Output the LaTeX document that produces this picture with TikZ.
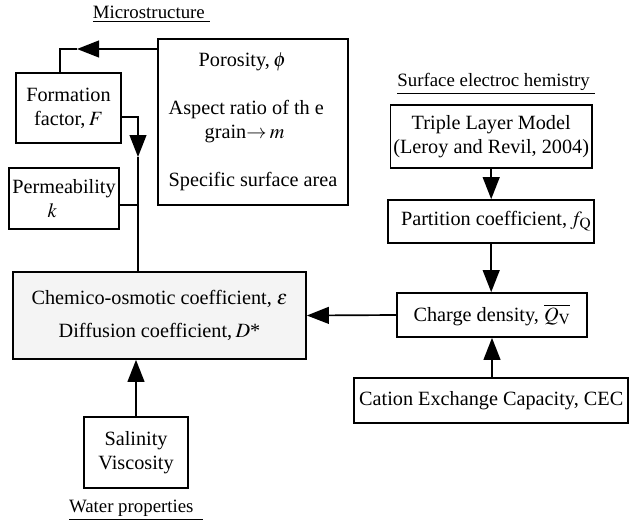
\documentclass[tikz,border=0pt]{standalone}
\usepackage{mathptmx}
\usepackage{fontspec}
\setmainfont{Liberation Serif}
\usepackage{tikz}
\usetikzlibrary{arrows.meta, positioning}
\newcommand{\boxfont}{\fontsize{14.4pt}{17pt}\selectfont}
\newcommand{\lblfont}{\fontsize{13.4pt}{15pt}\selectfont}

\begin{document}
\begin{tikzpicture}[
  box/.style={rectangle, draw=black, line width=1.2pt, inner sep=2pt,
              align=center, font=\boxfont},
  lbl/.style={font=\lblfont, inner sep=1pt},
  line/.style={line width=1.2pt},
  arr/.style={-{Triangle[length=0.55cm, width=0.42cm]}, line width=1.2pt},
]
  \useasboundingbox (0,0) rectangle (15.725,-13.075);

  % Group labels
  \node[lbl] (lblmicro) at (3.78,-0.35)  {\underline{Microstructure\ }};
  \node[lbl] (lblsurf)  at (12.4,-2.1)   {\underline{Surface electroc hemistry\ }};
  \node[lbl] (lblwater) at (3.4,-12.75)  {\underline{Water properties\ \ }};

  % Microstructure boxes
  \node[box, minimum width=4.75cm, minimum height=4.15cm, align=left] (poro) at (6.325,-3.05)
    {\hspace*{0.75cm}Porosity,\,$\phi$\\[17pt]
     Aspect ratio of th e\\
     \hspace*{0.9cm}grain$\rightarrow$\,$m$\\[17pt]
     Specific surface area};
  \node[box, minimum width=2.625cm, minimum height=1.75cm] (form) at (1.7125,-2.7)
    {Formation\\factor,\,$F$};
  \node[box, minimum width=2.75cm, minimum height=1.525cm, align=left] (perm) at (1.6,-4.9625)
    {Permeability\\\hspace*{1.75em}$k$};

  % Central box
  \node[box, fill=gray!9, minimum width=7.325cm, minimum height=2.175cm] (chem) at (3.9875,-7.8875)
    {Chemico-osmotic coefficient,\ $\varepsilon$\\[7pt]
     Diffusion coefficient,\,$D$*};

  % Water properties
  \node[box, minimum width=2.6cm, minimum height=1.775cm] (sal) at (3.4,-11.3125)
    {Salinity\\Viscosity};

  % Surface electrochemistry boxes
  \node[box, minimum width=4.8cm, minimum height=1.575cm] (tlm) at (12.28,-3.4125)
    {Triple Layer Model\\(Leroy and Revil, 2004)};
  \node[box, minimum width=4.8cm, minimum height=1.075cm] (part) at (12.28,-5.5375)
    {\hspace*{0.25cm}Partition coefficient,\,$f_{\mathrm{Q}}$};
  \node[box, minimum width=4.75cm, minimum height=1.1cm] (charge) at (12.3,-7.875)
    {Charge density,\ $\overline{Q_{\mathrm{V}}}$};
  \node[box, minimum width=6.85cm, minimum height=1.125cm] (cec) at (12.28,-10.0125)
    {Cation Exchange Capacity, CEC};

  % Bends and joins
  \coordinate (topbend) at (1.5,-1.225);
  \coordinate (toptip)  at (1.925,-1.225);
  \coordinate (fbend)   at (3.45,-2.925);
  \coordinate (ftip)    at (3.45,-3.925);
  \coordinate (pjoin)   at (3.45,-5.125);

  % Connectors
  \draw[arr]  (poro.west |- topbend) -- (toptip);
  \draw[line] (toptip) -- (topbend) -- (topbend |- form.north);
  \draw[arr]  (form.east |- fbend) -- (fbend) -- (ftip);
  \draw[line] (ftip) -- (ftip |- chem.north);
  \draw[line] (perm.east |- pjoin) -- (pjoin);
  \draw[arr]  (sal.north) -- (sal.north |- chem.south);
  \draw[arr]  (charge.west) -- (chem.east);
  \draw[arr]  (tlm.south) -- (tlm.south |- part.north);
  \draw[arr]  (part.south) -- (part.south |- charge.north);
  \draw[arr]  (cec.north -| charge.south) -- (charge.south);

\end{tikzpicture}
\end{document}
